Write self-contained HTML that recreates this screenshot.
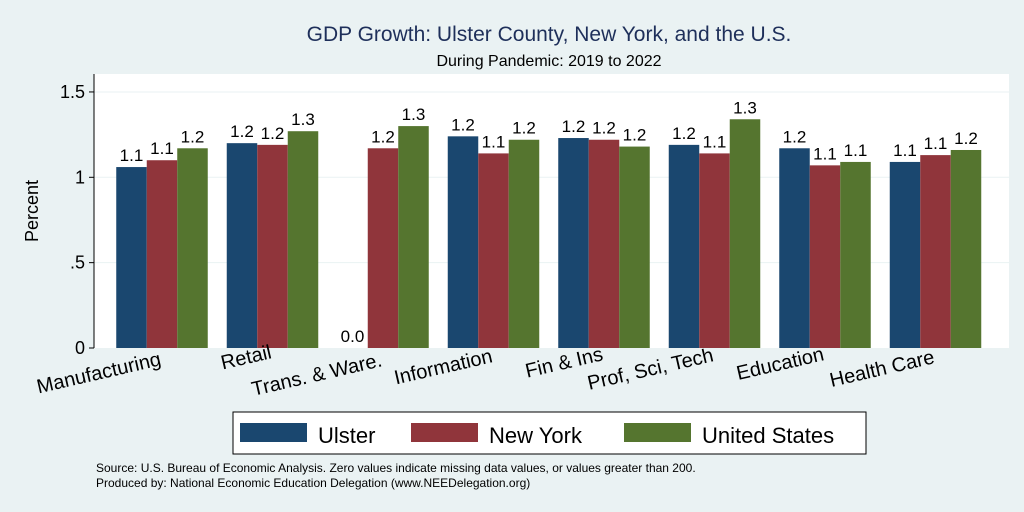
<!DOCTYPE html>
<html><head><meta charset="utf-8"><style>
html,body{margin:0;padding:0;background:#eaf2f3;}
svg{display:block;font-family:"Liberation Sans",Arial,sans-serif;}
</style></head><body>
<svg id="chart" width="1024" height="512" viewBox="0 0 1024 512">
<rect x="0" y="0" width="1024" height="512" fill="#eaf2f3"/>
<text x="549" y="41" text-anchor="middle" font-size="21" fill="#1e2f5a">GDP Growth: Ulster County, New York, and the U.S.</text>
<text x="549" y="66" text-anchor="middle" font-size="16" fill="#000">During Pandemic: 2019 to 2022</text>
<rect x="94" y="74" width="915" height="274" fill="#fff"/>
<g id="grid"></g><g id="yaxis"></g><g id="bars"></g><g id="xlabels"></g>
<text transform="translate(38,211) rotate(-90)" text-anchor="middle" font-size="18">Percent</text>
<g>
<rect x="233" y="412" width="633" height="42" fill="#fff" stroke="#000" stroke-width="1"/>
<rect x="240" y="423" width="67" height="19" fill="#1a476f"/>
<text x="318" y="443" font-size="22">Ulster</text>
<rect x="411" y="423" width="67" height="19" fill="#90353b"/>
<text x="489" y="443" font-size="22">New York</text>
<rect x="624" y="423" width="67" height="19" fill="#55752f"/>
<text x="702" y="443" font-size="22">United States</text>
</g>
<text x="96" y="472" font-size="12">Source: U.S. Bureau of Economic Analysis. Zero values indicate missing data values, or values greater than 200.</text>
<text x="96" y="487" font-size="12">Produced by: National Economic Education Delegation (www.NEEDelegation.org)</text>
</svg>
<script>
const categories=["Manufacturing","Retail","Trans. & Ware.","Information","Fin & Ins","Prof, Sci, Tech","Education","Health Care"];
const ulster=[1.06,1.20,0,1.24,1.23,1.19,1.17,1.09];
const newYork=[1.10,1.19,1.17,1.14,1.22,1.14,1.07,1.13];
const unitedStates=[1.17,1.27,1.30,1.22,1.18,1.34,1.09,1.16];
const yTicks=[0,0.5,1,1.5];
const yTickLabels=["0",".5","1","1.5"];
const labelDy=[17,10,18,14,12,13,12,15];
const NS="http://www.w3.org/2000/svg";
const x0=94,plotW=915,yBase=348,pxPerUnit=170.7;
const y=v=>yBase-v*pxPerUnit;
const groupW=110.5,barW=30.5;
const gx=i=>x0+68+i*groupW;
function mk(tag,attrs,parent){const e=document.createElementNS(NS,tag);for(const k in attrs)e.setAttribute(k,attrs[k]);document.getElementById(parent).appendChild(e);return e;}
yTicks.forEach((t,i)=>{
 if(t>0){const g=mk("line",{x1:x0,x2:x0+plotW,y1:y(t),y2:y(t),stroke:"#eaf2f3","stroke-width":1},"grid");
 
 }
 const tk=mk("line",{x1:x0-5,x2:x0,y1:y(t),y2:y(t),stroke:"#000"},"yaxis");
 
 
 const tl=mk("text",{x:x0-9,y:y(t)+6,"text-anchor":"end","font-size":"18"},"yaxis");
 tl.textContent=yTickLabels[i];
 
 
});
const ax=mk("line",{x1:x0,x2:x0,y1:74,y2:yBase,stroke:"#000"},"yaxis");


const series=[[ulster,"#1a476f","ulster"],[newYork,"#90353b","new-york"],[unitedStates,"#55752f","united-states"]];
categories.forEach((c,i)=>{
 series.forEach(([arr,col,nm],s)=>{
  const v=arr[i];const bx=gx(i)+(s-1.5)*barW;
  const r=mk("rect",{x:bx,y:y(v),width:barW,height:yBase-y(v),fill:col},"bars");
  
  
  const t=mk("text",{x:bx+barW/2,y:y(v)-6,"text-anchor":"middle","font-size":"17"},"bars");
  t.textContent=v.toFixed(1);
  
  
 });
 const lx=gx(i),ly=yBase+labelDy[i];
 const l=mk("text",{x:lx,y:ly,"text-anchor":"end","font-size":"20",transform:`rotate(-13 ${lx} ${ly})`},"xlabels");
 l.textContent=c;
 
 
});
</script>
</body></html>
